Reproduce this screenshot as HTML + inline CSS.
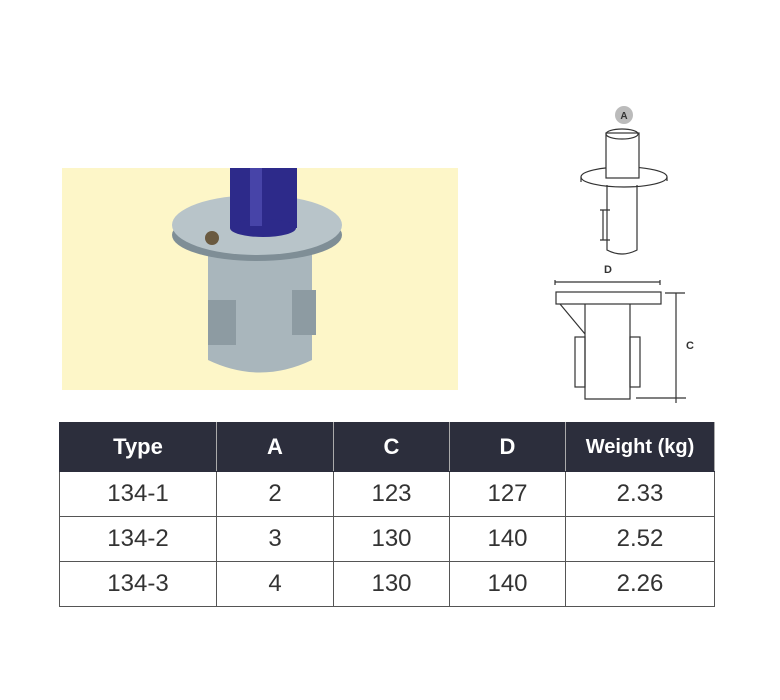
<!DOCTYPE html>
<html><head><style>
body{margin:0;width:780px;height:700px;background:#fff;position:relative;overflow:hidden;font-family:"Liberation Sans",sans-serif}
table{position:absolute;left:59px;top:422px;border-collapse:collapse}
td,th{border:1px solid #555;text-align:center;padding:0}
th{background:#2c2e3c;color:#fff;font-size:22px;font-weight:bold;height:48px;border-color:#2c2e3c;border-right:1px solid #aaa}
td{height:44px;font-size:24px;color:#333;font-weight:300}
</style></head><body>
<svg width="780" height="700" style="position:absolute;left:0;top:0">
<rect x="62" y="168" width="396" height="222" fill="#fdf6c8"/>
<path d="M208 250 L208 360 Q260 385 312 360 L312 250 Z" fill="#a9b6bc"/>
<rect x="208" y="300" width="28" height="45" fill="#8d9ba2"/>
<rect x="292" y="290" width="24" height="45" fill="#8d9ba2"/>
<ellipse cx="257" cy="235" rx="85" ry="26" fill="#7f8e96"/>
<ellipse cx="257" cy="225" rx="85" ry="30" fill="#b8c4c9"/>
<circle cx="212" cy="238" r="7" fill="#6a5a40"/>
<rect x="230" y="168" width="67" height="60" fill="#2d2a8a"/>
<ellipse cx="263" cy="228" rx="33" ry="9" fill="#2d2a8a"/>
<rect x="250" y="168" width="12" height="58" fill="#4744a8"/>
<g fill="none" stroke="#333" stroke-width="1.2">
<circle cx="624" cy="115" r="9" fill="#bbb" stroke="none"/>
<ellipse cx="624" cy="177" rx="43" ry="10"/>
<path d="M581 177 v5 M667 177 v4"/>
<rect x="606" y="133" width="33" height="45" fill="#fff"/>
<ellipse cx="622" cy="134" rx="16" ry="5"/>
<path d="M607 185 v65 q15 8 30 0 v-65"/>
<path d="M600 210 h10 M600 240 h10 M603 210 v30"/>
<path d="M555 282 h105 M555 280 v5 M660 280 v5"/>
<rect x="556" y="292" width="105" height="12"/>
<path d="M585 304 v95 h45 v-95 M560 304 l25 30"/>
<rect x="575" y="337" width="10" height="50"/>
<rect x="630" y="337" width="10" height="50"/>
<path d="M676 293 v110 M665 293 h20 M636 398 h50"/>
</g>
<text x="624" y="119" font-size="10" font-weight="bold" text-anchor="middle" fill="#333">A</text>
<text x="608" y="273" font-size="11" font-weight="bold" text-anchor="middle" fill="#333">D</text>
<text x="690" y="349" font-size="11" font-weight="bold" text-anchor="middle" fill="#333">C</text>
</svg>
<table>
<tr><th style="width:156px">Type</th><th style="width:116px">A</th><th style="width:115px">C</th><th style="width:115px">D</th><th style="width:148px;font-size:20px">Weight (kg)</th></tr>
<tr><td>134-1</td><td>2</td><td>123</td><td>127</td><td>2.33</td></tr>
<tr><td>134-2</td><td>3</td><td>130</td><td>140</td><td>2.52</td></tr>
<tr><td>134-3</td><td>4</td><td>130</td><td>140</td><td>2.26</td></tr>
</table>
</body></html>
